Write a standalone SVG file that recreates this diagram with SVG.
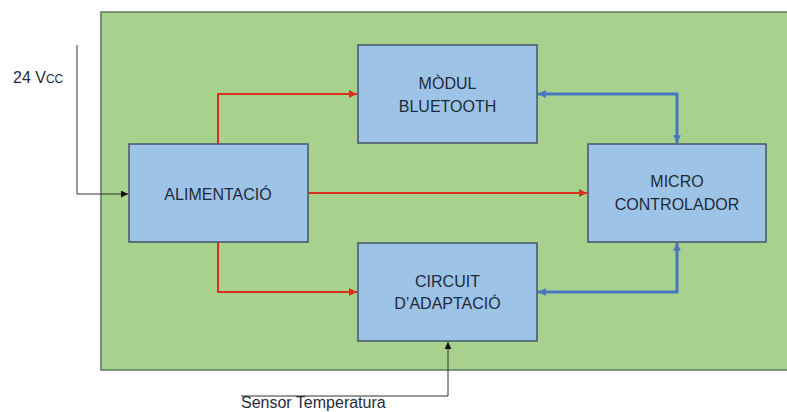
<svg xmlns="http://www.w3.org/2000/svg" width="787" height="412" viewBox="0 0 787 412">
<style>
.box{fill:#9DC3E6;stroke:#44546A;stroke-width:1.5}
.t{font-family:"Liberation Sans",Arial,sans-serif;font-size:16px;fill:#1F2A3A;text-anchor:middle}
.red{fill:none;stroke:#D9301C;stroke-width:2}
.blue{fill:none;stroke:#4A76BE;stroke-width:3}
.blk{fill:none;stroke:#333;stroke-width:1}
</style>
<defs>
<marker id="ar" viewBox="0 0 10 10" refX="10" refY="5" markerWidth="4" markerHeight="4" orient="auto" markerUnits="strokeWidth"><path d="M0,0 L10,5 L0,10 z" fill="#D9301C"/></marker>
<marker id="ab" viewBox="0 0 10 10" refX="10" refY="5" markerWidth="2.6" markerHeight="2.6" orient="auto-start-reverse" markerUnits="strokeWidth"><path d="M0,0 L10,5 L0,10 z" fill="#4A76BE"/></marker>
<marker id="ak" viewBox="0 0 10 10" refX="10" refY="5" markerWidth="7" markerHeight="7" orient="auto" markerUnits="strokeWidth"><path d="M0,0 L10,5 L0,10 z" fill="#111"/></marker>
</defs>
<rect x="101" y="12" width="690" height="358" fill="#A9D18E" stroke="#5A7A5E" stroke-width="1.5"/>
<g id="connectors">
<path class="red" d="M218,144 V94 H357" marker-end="url(#ar)"/>
<path class="red" d="M218,242 V292 H357" marker-end="url(#ar)"/>
<path class="red" d="M308,193 H587" marker-end="url(#ar)"/>
<path class="blue" d="M538,94 H677 V143" marker-start="url(#ab)" marker-end="url(#ab)"/>
<path class="blue" d="M538,292 H677 V243" marker-start="url(#ab)" marker-end="url(#ab)"/>
<path class="blk" d="M77,45 V194 H128" marker-end="url(#ak)"/>
<path class="blk" d="M241,396 H448 V342" marker-end="url(#ak)"/>
</g>
<g id="alimentacio"><rect class="box" x="129" y="144" width="179" height="98"/><text class="t" x="218" y="200">ALIMENTACIÓ</text></g>
<g id="bluetooth"><rect class="box" x="358" y="45" width="179" height="98"/><text class="t" x="447.5" y="89">MÒDUL</text><text class="t" x="447.5" y="112">BLUETOOTH</text></g>
<g id="circuit"><rect class="box" x="358" y="243" width="179" height="98"/><text class="t" x="447.5" y="287">CIRCUIT</text><text class="t" x="447.5" y="309">D’ADAPTACIÓ</text></g>
<g id="micro"><rect class="box" x="588" y="144" width="178" height="98"/><text class="t" x="677" y="187">MICRO</text><text class="t" x="677" y="210">CONTROLADOR</text></g>
<g id="labels">
<text x="13" y="83" style="font-family:'Liberation Sans',Arial,sans-serif;font-size:16px;fill:#1F2A3A">24 V<tspan font-size="12">CC</tspan></text>
<text x="241" y="408" style="font-family:'Liberation Sans',Arial,sans-serif;font-size:16px;fill:#1F2A3A">Sensor Temperatura</text>
</g>
</svg>
